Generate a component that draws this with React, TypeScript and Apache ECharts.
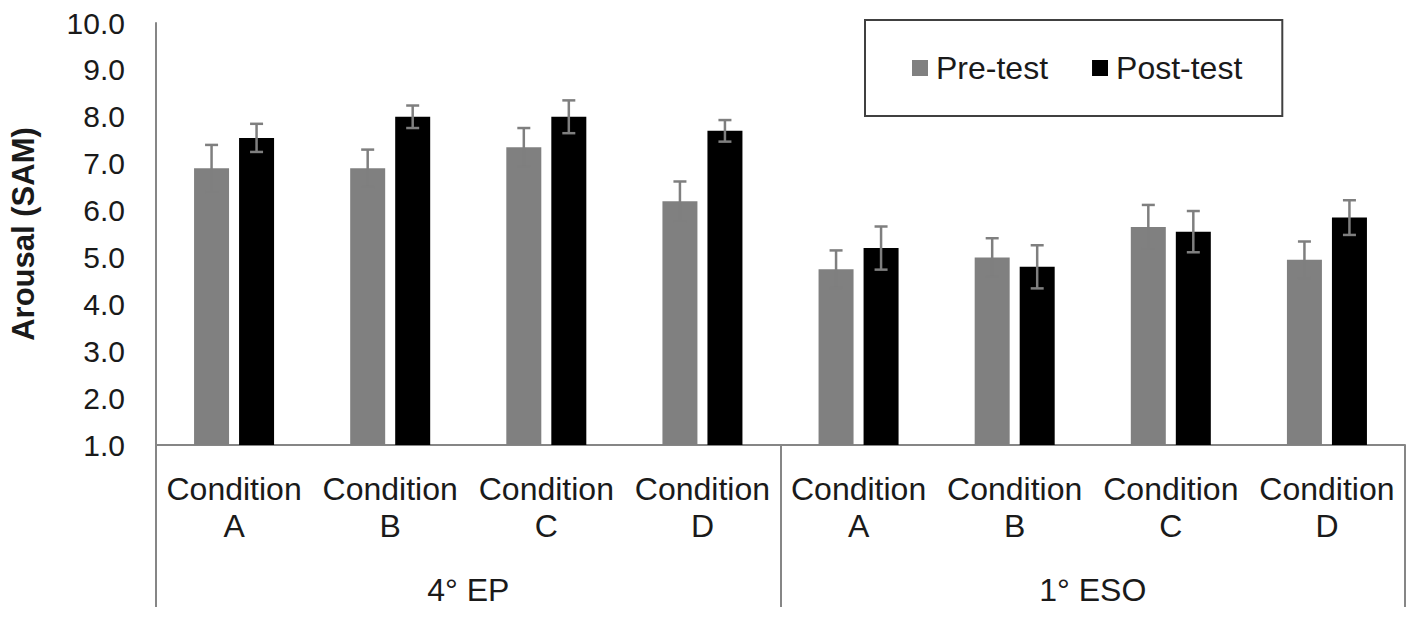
import React, { useEffect, useRef } from "react";
import * as echarts from "echarts";

const categories = [
  "Condition\nA", "Condition\nB", "Condition\nC", "Condition\nD",
  "Condition\nA", "Condition\nB", "Condition\nC", "Condition\nD",
];
const groups = ["4° EP", "1° ESO"];
const yTicks = [1, 10, 1]; // min, max, interval
const preTest = [6.9, 6.9, 7.35, 6.2, 4.75, 5.0, 5.65, 4.95];
const preErr = [0.5, 0.4, 0.41, 0.42, 0.4, 0.41, 0.47, 0.39];
const postTest = [7.55, 8.0, 8.0, 7.7, 5.2, 4.8, 5.55, 5.85];
const postErr = [0.3, 0.24, 0.35, 0.23, 0.46, 0.46, 0.44, 0.37];

const FONT = "'Liberation Sans', Arial, Helvetica, sans-serif";
const BAR_W = 35;
const BAR_GAP_PX = 10;
const AXIS_GREY = "#868686";
const ERR_GREY = "#7f7f7f";

function errSeries(values: number[], errs: number[], side: number) {
  const offset = side * (BAR_W + BAR_GAP_PX) / 2;
  return {
    type: "custom",
    name: side < 0 ? "pre-err" : "post-err",
    z: 5,
    data: values.map((v, i) => [i, v - errs[i], v + errs[i]]),
    encode: { x: 0, y: [1, 2] },
    renderItem: (_p: any, api: any) => {
      const idx = api.value(0);
      const lo = api.coord([idx, api.value(1)]);
      const hi = api.coord([idx, api.value(2)]);
      const x = lo[0] + offset;
      const st = { stroke: ERR_GREY, lineWidth: 2.5 };
      const cap = 6.5;
      return {
        type: "group",
        children: [
          { type: "line", shape: { x1: x, y1: hi[1], x2: x, y2: lo[1] }, style: st },
          { type: "line", shape: { x1: x - cap, y1: hi[1], x2: x + cap, y2: hi[1] }, style: st },
          { type: "line", shape: { x1: x - cap, y1: lo[1], x2: x + cap, y2: lo[1] }, style: st },
        ],
      };
    },
  };
}

export default function App() {
  const ref = useRef<HTMLDivElement>(null);
  useEffect(() => {
    if (!ref.current) return;
    const chart = echarts.init(ref.current, undefined, { renderer: "svg" });
    chart.setOption({
      animation: false,
      backgroundColor: "#ffffff",
      textStyle: { fontFamily: FONT },
      grid: { left: 153, right: 12, top: 23, bottom: 177, containLabel: false },
      legend: {
        data: ["Pre-test", "Post-test"],
        left: 865,
        top: 20,
        padding: [32, 40, 32, 47],
        itemGap: 44,
        itemWidth: 16,
        itemHeight: 16,
        icon: "rect",
        borderColor: "#404040",
        borderWidth: 2,
        textStyle: { fontSize: 32, color: "#1a1a1a", fontFamily: FONT, padding: [0, 0, 0, 3] },
      },
      xAxis: [
        {
          type: "category",
          data: categories,
          position: "bottom",
          axisLine: { show: true, lineStyle: { color: AXIS_GREY, width: 2 } },
          axisTick: { show: false },
          axisLabel: {
            interval: 0,
            fontSize: 32,
            lineHeight: 37,
            margin: 25,
            color: "#1a1a1a",
            fontFamily: FONT,
          },
        },
        {
          type: "category",
          data: groups,
          position: "bottom",
          axisLine: { show: false },
          axisTick: { show: true, length: 162, lineStyle: { color: AXIS_GREY, width: 2 } },
          axisLabel: { fontSize: 32, margin: 129, color: "#1a1a1a", fontFamily: FONT },
        },
      ],
      yAxis: {
        type: "value",
        min: yTicks[0],
        max: yTicks[1],
        interval: yTicks[2],
        name: "Arousal (SAM)",
        nameLocation: "middle",
        nameRotate: 90,
        nameGap: 117,
        nameTextStyle: { fontSize: 31, fontWeight: "bold", color: "#1a1a1a", fontFamily: FONT },
        axisLine: { show: true, lineStyle: { color: AXIS_GREY, width: 2 } },
        axisTick: { show: false },
        splitLine: { show: false },
        axisLabel: {
          fontSize: 30,
          margin: 31,
          color: "#1a1a1a",
          fontFamily: FONT,
          formatter: (v: number) => v.toFixed(1),
        },
      },
      series: [
        {
          name: "Pre-test",
          type: "bar",
          data: preTest,
          barWidth: BAR_W,
          barGap: (BAR_GAP_PX / BAR_W * 100).toFixed(1) + "%",
          itemStyle: { color: "#808080" },
        },
        {
          name: "Post-test",
          type: "bar",
          data: postTest,
          barWidth: BAR_W,
          barGap: (BAR_GAP_PX / BAR_W * 100).toFixed(1) + "%",
          itemStyle: { color: "#000000" },
        },
        errSeries(preTest, preErr, -1),
        errSeries(postTest, postErr, 1),
      ],
    });
    return () => chart.dispose();
  }, []);
  return (
    <div
      ref={ref}
      style={{ position: "fixed", left: 0, top: 0, width: 1417, height: 622, background: "#fff" }}
    />
  );
}
